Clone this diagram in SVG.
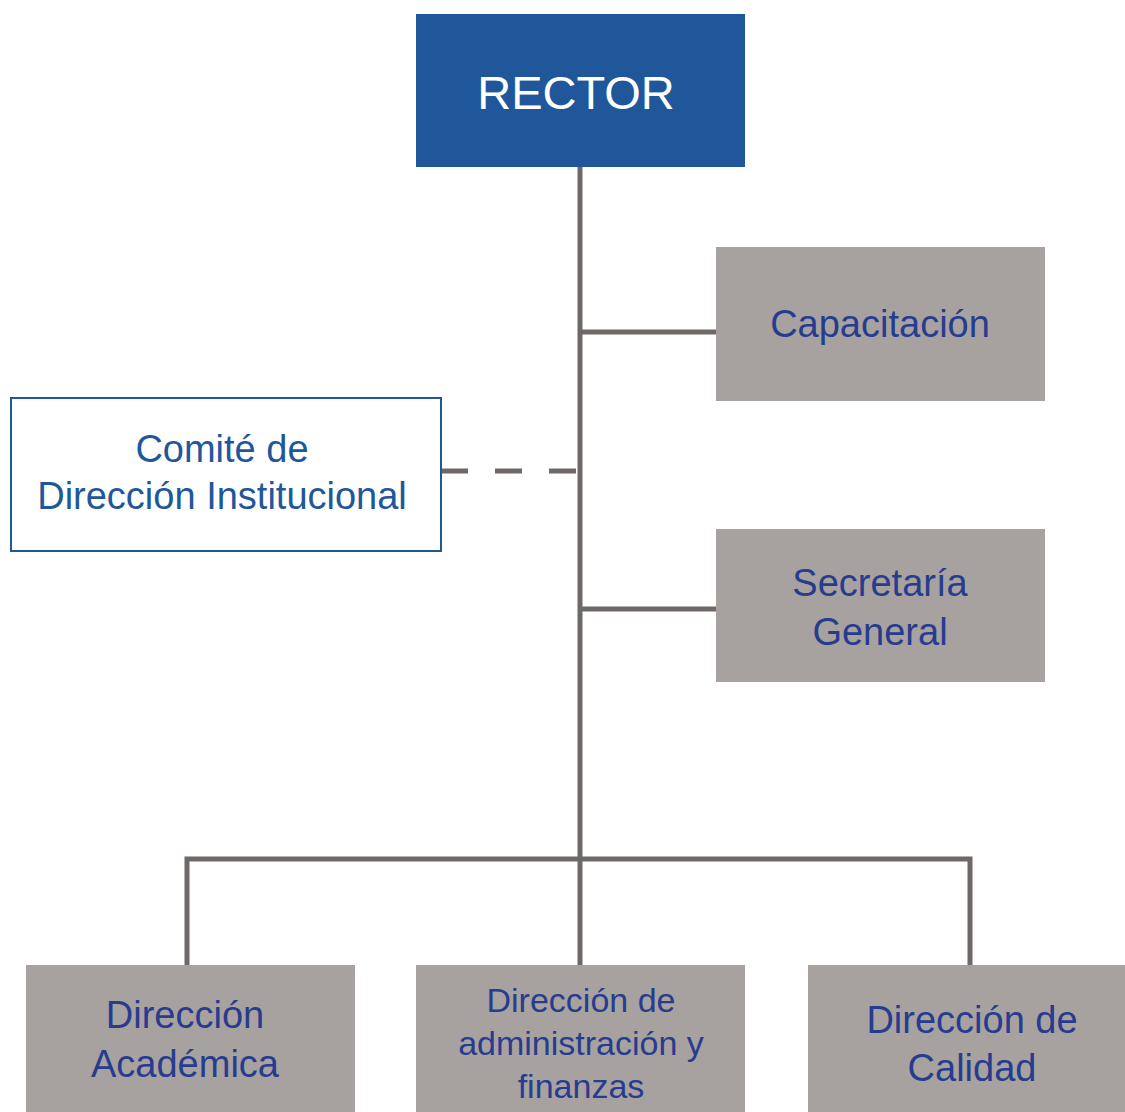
<svg xmlns="http://www.w3.org/2000/svg" width="1125" height="1112" viewBox="0 0 1125 1112">
<style>
.g{fill:#a7a29f}
.t{font-family:"Liberation Sans",Arial,sans-serif;font-size:38px;fill:#283c8f;text-anchor:middle}
.c{stroke:#6e6966;stroke-width:5;fill:none}
</style>
<rect width="1125" height="1112" fill="#fff"/>
<g id="connectors">
<line class="c" x1="580" y1="167" x2="580" y2="965"/>
<line class="c" x1="580" y1="332" x2="716" y2="332"/>
<line class="c" x1="580" y1="609" x2="716" y2="609"/>
<line class="c" x1="441" y1="471" x2="580" y2="471" stroke-dasharray="27 27"/>
<polyline class="c" points="187,965 187,859 970,859 970,965"/>
</g>
<g id="rector">
<rect x="416" y="14" width="329" height="153" fill="#1f579a"/>
<text class="t" x="576" y="109" style="fill:#fff;font-size:47px">RECTOR</text>
</g>
<g id="capacitacion">
<rect class="g" x="716" y="247" width="329" height="154"/>
<text class="t" x="880" y="337">Capacitación</text>
</g>
<g id="comite">
<rect x="11" y="398" width="430" height="153" fill="#fff" stroke="#1f579a" stroke-width="2"/>
<text class="t" x="222" y="462" style="fill:#1f579a">Comité de</text>
<text class="t" x="222" y="509" style="fill:#1f579a">Dirección Institucional</text>
</g>
<g id="secretaria">
<rect class="g" x="716" y="529" width="329" height="153"/>
<text class="t" x="880" y="596">Secretaría</text>
<text class="t" x="880" y="645">General</text>
</g>
<g id="academica">
<rect class="g" x="26" y="965" width="329" height="147"/>
<text class="t" x="185" y="1028">Dirección</text>
<text class="t" x="185" y="1077">Académica</text>
</g>
<g id="administracion">
<rect class="g" x="416" y="965" width="329" height="147"/>
<text class="t" x="581" y="1012" style="font-size:34px">Dirección de</text>
<text class="t" x="581" y="1055" style="font-size:34px">administración y</text>
<text class="t" x="581" y="1098" style="font-size:34px">finanzas</text>
</g>
<g id="calidad">
<rect class="g" x="808" y="965" width="317" height="147"/>
<text class="t" x="972" y="1033">Dirección de</text>
<text class="t" x="972" y="1081">Calidad</text>
</g>
</svg>
